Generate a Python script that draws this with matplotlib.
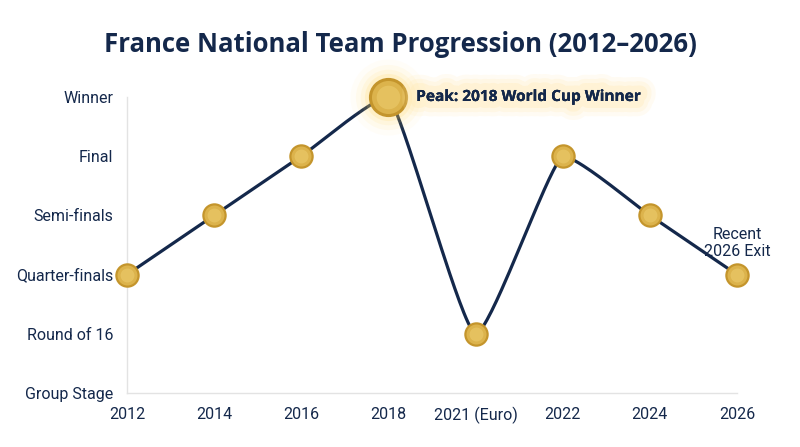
import numpy as np
import matplotlib
matplotlib.use('Agg')
import matplotlib.pyplot as plt
import matplotlib.patheffects as pe

# data
years = ['2012', '2014', '2016', '2018', '2021 (Euro)', '2022', '2024', '2026']
stages = ['Group Stage', 'Round of 16', 'Quarter-finals', 'Semi-finals', 'Final', 'Winner']
results = [2, 3, 4, 5, 1, 4, 3, 2]

NAVY = '#14284b'
GOLD = '#dcb34c'
GOLD_EDGE = '#c4952c'
GOLD_LIGHT = '#f1d478'

# axes box in pixels
AX_L, AX_B, AX_W, AX_H = 127, 54, 610, 296


def cardinal_curve(px, py, k=0.085, n=40):
    # cardinal spline; each control point is kept between its point
    # and the neighbour, so the line never overshoots a value
    pts = np.column_stack([px, py]).astype(float)
    m = len(pts)
    prev_c = pts.copy()
    next_c = pts.copy()
    for i in range(m):
        prv = pts[i - 1] if i > 0 else pts[i]
        nxt = pts[i + 1] if i < m - 1 else pts[i]
        pc = pts[i] - k * (nxt - prv)
        nc = pts[i] + k * (nxt - prv)
        pc[1] = np.clip(pc[1], min(prv[1], pts[i][1]), max(prv[1], pts[i][1]))
        nc[1] = np.clip(nc[1], min(nxt[1], pts[i][1]), max(nxt[1], pts[i][1]))
        prev_c[i] = pc
        next_c[i] = nc
    u = np.linspace(0, 1, n)[:, None]
    out = []
    for i in range(m - 1):
        p1, c1, c2, p2 = pts[i], next_c[i], prev_c[i + 1], pts[i + 1]
        out.append((1 - u) ** 3 * p1 + 3 * (1 - u) ** 2 * u * c1
                   + 3 * (1 - u) * u ** 2 * c2 + u ** 3 * p2)
    out = np.vstack(out)
    return out[:, 0], out[:, 1]


fig = plt.figure(figsize=(8, 4.47), dpi=100)
ax = fig.add_axes([AX_L / 800, AX_B / 447, AX_W / 800, AX_H / 447])

xpos = np.arange(len(years))
sx = AX_W / (len(years) - 1)
sy = AX_H / (len(stages) - 1)
cx, cy = cardinal_curve(xpos * sx, np.array(results) * sy)
ax.plot(cx / sx, cy / sy, color=NAVY, lw=2.3, zorder=2, clip_on=False,
        solid_capstyle='round', solid_joinstyle='round')

peak = int(np.argmax(results))
others = [i for i in xpos if i != peak]

# glow around the peak medal
for s, a in [(3000, 0.04), (2200, 0.07), (1600, 0.1), (1150, 0.16)]:
    ax.scatter([xpos[peak]], [results[peak]], s=s, color='#ffd45a', alpha=a,
               lw=0, zorder=3, clip_on=False)

ov = [results[i] for i in others]
ax.plot(others, ov, 'o', ms=16, mfc=GOLD, mec=GOLD_EDGE, mew=1.6, zorder=4, clip_on=False)
ax.plot(others, ov, 'o', ms=10, mfc=GOLD_LIGHT, mec='none', alpha=0.45, zorder=5, clip_on=False)

ax.plot([xpos[peak]], [results[peak]], 'o', ms=26, mfc=GOLD, mec=GOLD_EDGE, mew=2.2,
        zorder=4, clip_on=False)
ax.plot([xpos[peak]], [results[peak]], 'o', ms=17, mfc=GOLD_LIGHT, mec='none', alpha=0.45,
        zorder=5, clip_on=False)

glow = [pe.withStroke(linewidth=w, foreground='#ffe9b0', alpha=a)
        for w, a in [(22, 0.15), (16, 0.2), (10, 0.3)]] + [pe.Normal()]
ax.annotate('Peak: 2018 World Cup Winner', (xpos[peak], results[peak]),
            xytext=(20, 0), textcoords='offset points', ha='left', va='center',
            fontsize=11.1, fontweight='bold', family='Open Sans', color=NAVY,
            path_effects=glow, zorder=6)

ax.annotate('Recent\n2026 Exit', (xpos[-1], results[-1]), xytext=(0, 11),
            textcoords='offset points', ha='center', va='bottom', fontsize=11.5,
            family='Roboto', color=NAVY, linespacing=1.2, zorder=6)

ax.set_xlim(0, len(years) - 1)
ax.set_ylim(0, len(stages) - 1)
ax.set_xticks(xpos)
ax.set_xticklabels(years)
ax.set_yticks(range(len(stages)))
ax.set_yticklabels(stages)
ax.tick_params(length=0, labelsize=11.5, labelcolor=NAVY)
ax.tick_params(axis='y', pad=10)
ax.tick_params(axis='x', pad=10)
for lab in ax.get_xticklabels() + ax.get_yticklabels():
    lab.set_family('Roboto')

for side in ['top', 'right']:
    ax.spines[side].set_visible(False)
for side in ['left', 'bottom']:
    ax.spines[side].set_color('#e3e3e3')
    ax.spines[side].set_linewidth(1)

fig.text(0.5, 1 - 44 / 447, 'France National Team Progression (2012\u20132026)',
         ha='center', va='center', fontsize=18.5, fontweight='bold',
         family='Open Sans', color=NAVY)

fig.savefig('out.png', dpi=100, facecolor='white')
